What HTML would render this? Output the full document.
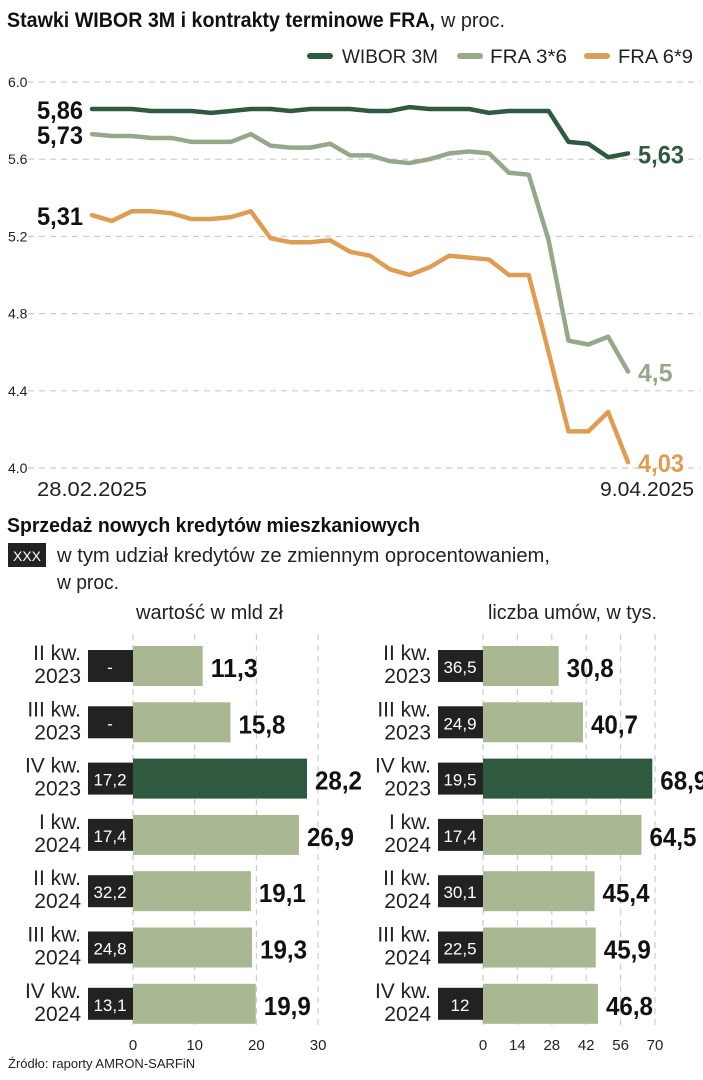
<!DOCTYPE html>
<html><head><meta charset="utf-8">
<style>
html,body{margin:0;padding:0;background:#fff;}
svg{display:block;font-family:"Liberation Sans Narrow","Liberation Sans",sans-serif;}
</style></head>
<body>
<svg id="root" width="703" height="1080" viewBox="0 0 703 1080">
<text x="7" y="27" font-size="21" font-weight="bold" fill="#111" textLength="428" lengthAdjust="spacingAndGlyphs">Stawki WIBOR 3M i kontrakty terminowe FRA,</text>
<text x="441" y="27" font-size="20" fill="#222" textLength="64" lengthAdjust="spacingAndGlyphs">w proc.</text>
<g>
<line x1="310" y1="56" x2="330" y2="56" stroke="#2f5a3f" stroke-width="6" stroke-linecap="round"/>
<text x="342" y="63" font-size="19" fill="#222" textLength="96" lengthAdjust="spacingAndGlyphs">WIBOR 3M</text>
<line x1="460" y1="56" x2="480" y2="56" stroke="#97a88a" stroke-width="6" stroke-linecap="round"/>
<text x="490" y="63" font-size="19" fill="#222" textLength="77" lengthAdjust="spacingAndGlyphs">FRA 3*6</text>
<line x1="587" y1="56" x2="607" y2="56" stroke="#dd9d55" stroke-width="6" stroke-linecap="round"/>
<text x="618" y="63" font-size="19" fill="#222" textLength="75" lengthAdjust="spacingAndGlyphs">FRA 6*9</text>
</g>
<g id="linechart"></g>

<text x="7" y="532" font-size="20" font-weight="bold" fill="#111" textLength="413" lengthAdjust="spacingAndGlyphs">Sprzedaż nowych kredytów mieszkaniowych</text>
<rect x="8" y="543" width="38" height="24" fill="#222"/>
<text x="27" y="561" font-size="14" fill="#fff" text-anchor="middle">XXX</text>
<text x="57" y="562" font-size="20" fill="#222" textLength="493" lengthAdjust="spacingAndGlyphs">w tym udział kredytów ze zmiennym oprocentowaniem,</text>
<text x="57" y="589" font-size="20" fill="#222" textLength="62" lengthAdjust="spacingAndGlyphs">w proc.</text>
<text x="136" y="619" font-size="20" fill="#222" textLength="147" lengthAdjust="spacingAndGlyphs">wartość w mld zł</text>
<text x="488" y="619" font-size="20" fill="#222" textLength="169" lengthAdjust="spacingAndGlyphs">liczba umów, w tys.</text>
<g id="barchart"></g>
<text x="8" y="1068" font-size="13" fill="#222">Źródło: raporty AMRON-SARFiN</text>
</svg>
<script>
const wibor=[5.86,5.86,5.86,5.85,5.85,5.85,5.84,5.85,5.86,5.86,5.85,5.86,5.86,5.86,5.85,5.85,5.87,5.86,5.86,5.86,5.84,5.85,5.85,5.85,5.69,5.68,5.61,5.63];
const fra36=[5.73,5.72,5.72,5.71,5.71,5.69,5.69,5.69,5.73,5.67,5.66,5.66,5.68,5.62,5.62,5.59,5.58,5.60,5.63,5.64,5.63,5.53,5.52,5.18,4.66,4.64,4.68,4.50];
const fra69=[5.31,5.28,5.33,5.33,5.32,5.29,5.29,5.30,5.33,5.19,5.17,5.17,5.18,5.12,5.10,5.03,5.00,5.04,5.10,5.09,5.08,5.00,5.00,4.60,4.19,4.19,4.29,4.03];
const yTicks=[4.0,4.4,4.8,5.2,5.6,6.0];
const dateLabels=["28.02.2025","9.04.2025"];
const quarters=[["II kw.","2023"],["III kw.","2023"],["IV kw.","2023"],["I kw.","2024"],["II kw.","2024"],["III kw.","2024"],["IV kw.","2024"]];
const valueBn=[11.3,15.8,28.2,26.9,19.1,19.3,19.9];
const shareValue=["-","-","17,2","17,4","32,2","24,8","13,1"];
const countK=[30.8,40.7,68.9,64.5,45.4,45.9,46.8];
const shareCount=["36,5","24,9","19,5","17,4","30,1","22,5","12"];
const leftTicks=[0,10,20,30];
const rightTicks=[0,14,28,42,56,70];

const NS="http://www.w3.org/2000/svg";
function mk(p,tag,attrs,txt){const e=document.createElementNS(NS,tag);for(const k in attrs)e.setAttribute(k,attrs[k]);if(txt!==undefined)e.textContent=txt;p.appendChild(e);return e;}
const fmt=v=>String(v).replace('.',',');
const tl=s=>s.length*11.5;

// line chart
const lc=document.getElementById('linechart');
const X0=92,X1=628,Y=v=>468-(v-4.0)*193;
const X=i=>X0+(X1-X0)*i/(wibor.length-1);
yTicks.forEach(t=>{
  const l=mk(lc,'line',{x1:28,x2:700,y1:Y(t),y2:Y(t),stroke:'#ccc','stroke-width':1.2,'stroke-dasharray':'6,5'});
  
  
  const tx=mk(lc,'text',{x:8,y:Y(t)+5,'font-size':14,fill:'#222'},t.toFixed(1));
  
  
});
const d1=mk(lc,'text',{x:37,y:496,'font-size':20,fill:'#222',textLength:110,lengthAdjust:'spacingAndGlyphs'},dateLabels[0]);


const d2=mk(lc,'text',{x:600,y:496,'font-size':20,fill:'#222',textLength:94,lengthAdjust:'spacingAndGlyphs'},dateLabels[1]);


[[fra69,'#dd9d55','fra69'],[fra36,'#97a88a','fra36'],[wibor,'#2f5a3f','wibor']].forEach(([s,c,n])=>{
  const pl=mk(lc,'polyline',{points:s.map((v,i)=>X(i)+','+Y(v)).join(' '),fill:'none',stroke:c,'stroke-width':4.5,'stroke-linejoin':'round','stroke-linecap':'round'});
  
  
  const a=fmt(s[0]),b=fmt(s[s.length-1]);
  const st=mk(lc,'text',{x:83,y:Y(s[0])+10,'font-size':25,'font-weight':'bold',fill:'#111','text-anchor':'end',textLength:tl(a),lengthAdjust:'spacingAndGlyphs'},a);
  
  
  const en=mk(lc,'text',{x:638,y:Y(s[s.length-1])+10,'font-size':25,'font-weight':'bold',fill:c,textLength:tl(b),lengthAdjust:'spacingAndGlyphs'},b);
  
  
});

// bar charts
const bc=document.getElementById('barchart');
const TOP=646,PITCH=56.3,BH=40;
function panel(x0,scale,ticks,vals,shares,name){
  ticks.forEach(t=>{
    const x=x0+t*scale;
    const g=mk(bc,'line',{x1:x,x2:x,y1:634,y2:1030,stroke:'#ccc','stroke-width':1.2,'stroke-dasharray':'6,5'});
    
    
    const tk=mk(bc,'text',{x:x,y:1050,'font-size':15,fill:'#222','text-anchor':'middle'},String(t));
    
    
  });
  vals.forEach((v,i)=>{
    const y=TOP+i*PITCH;
    const r=mk(bc,'rect',{x:x0,y:y,width:v*scale,height:BH,fill:i===2?'#2f5a3f':'#a9b893'});
    
    
    const b=mk(bc,'rect',{x:x0-45,y:y+4,width:45,height:32,fill:'#222'});
    
    
    const bt=mk(bc,'text',{x:x0-23,y:y+27,'font-size':17,fill:'#fff','text-anchor':'middle'},shares[i]);
    
    
    const s=fmt(v);
    const vt=mk(bc,'text',{x:x0+v*scale+8,y:y+31,'font-size':26,'font-weight':'bold',fill:'#111',textLength:tl(s)+1,lengthAdjust:'spacingAndGlyphs'},s);
    
    
    const q1=mk(bc,'text',{x:x0-52,y:y+14,'font-size':21,fill:'#222','text-anchor':'end'},quarters[i][0]);
    
    
    const q2=mk(bc,'text',{x:x0-52,y:y+37,'font-size':21,fill:'#222','text-anchor':'end'},quarters[i][1]);
    
    
  });
}
panel(133,6.17,leftTicks,valueBn,shareValue,'value');
panel(483,2.457,rightTicks,countK,shareCount,'count');
</script>
</body></html>
